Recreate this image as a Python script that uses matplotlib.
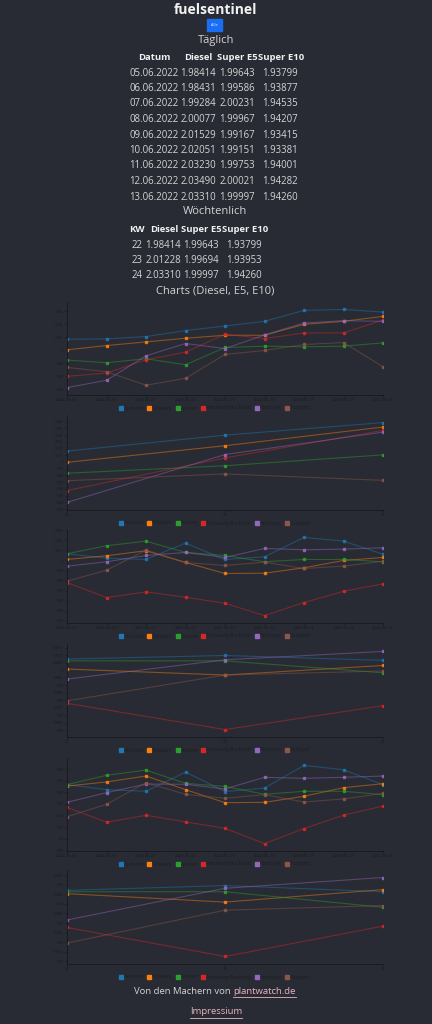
import numpy as np
import matplotlib.pyplot as plt
from matplotlib.ticker import MultipleLocator, FuncFormatter
from matplotlib.lines import Line2D

W, H = 432, 1024
BG = '#282b33'
TXT = '#d4d4d4'
HEAD = '#f0f0f0'
DARK = '#17191d'
PINK = '#e8b4c0'

plt.rcParams['font.family'] = ['Open Sans', 'DejaVu Sans']

# table data
days = ["05.06.2022", "06.06.2022", "07.06.2022", "08.06.2022", "09.06.2022",
        "10.06.2022", "11.06.2022", "12.06.2022", "13.06.2022"]
day_diesel = ["1.98414", "1.98431", "1.99284", "2.00077", "2.01529",
              "2.02051", "2.03230", "2.03490", "2.03310"]
day_e5 = ["1.99643", "1.99586", "2.00231", "1.99967", "1.99167",
          "1.99151", "1.99753", "2.00021", "1.99997"]
day_e10 = ["1.93799", "1.93877", "1.94535", "1.94207", "1.93415",
           "1.93381", "1.94001", "1.94282", "1.94260"]
weeks = ["22", "23", "24"]
week_diesel = ["1.98414", "2.01228", "2.03310"]
week_e5 = ["1.99643", "1.99694", "1.99997"]
week_e10 = ["1.93799", "1.93953", "1.94260"]

# chart data
cities = ["Ansbach", "Potsdam", "Aachen", "Annaberg-Buchholz", "Hamburg", "Stuttgart"]
colors = ['#1f77b4', '#ff7f0e', '#2ca02c', '#d62728', '#9467bd', '#8c564b']
dates = ["2022-06-05", "2022-06-06", "2022-06-07", "2022-06-08", "2022-06-09",
         "2022-06-10", "2022-06-11", "2022-06-12", "2022-06-13"]
kw = [22, 23, 24]

diesel_daily = [
    [2.0168, 2.0173, 2.0209, 2.0300, 2.0372, 2.0443, 2.0611, 2.0626, 2.0585],
    [2.0005, 2.0071, 2.0127, 2.0183, 2.0229, 2.0229, 2.0397, 2.0443, 2.0519],
    [1.9847, 1.9807, 1.9868, 1.9776, 2.0041, 2.0061, 2.0051, 2.0061, 2.0112],
    [1.9598, 1.9649, 1.9852, 1.9969, 2.0244, 2.0178, 2.0265, 2.0265, 2.0463],
    [1.9425, 1.9537, 1.9913, 2.0102, 2.0025, 2.0234, 2.0417, 2.0453, 2.0443],
    [1.9735, 1.9669, 1.9461, 1.9567, 1.9934, 1.9995, 2.0087, 2.0117, 1.9746],
]
diesel_weekly = [
    [2.0162, 2.0399, 2.0586],
    [1.9995, 2.0242, 2.0520],
    [1.9833, 1.9944, 2.0106],
    [1.9576, 2.0061, 2.0470],
    [1.9399, 2.0111, 2.0444],
    [1.9722, 1.9823, 1.9727],
]
e5_daily = [
    [2.0067, 2.0023, 2.0010, 2.0173, 2.0010, 2.0037, 2.0230, 2.0193, 2.0063],
    [2.0010, 2.0047, 2.0097, 1.9980, 1.9870, 1.9873, 1.9927, 2.0000, 2.0030],
    [2.0067, 2.0147, 2.0193, 2.0080, 2.0050, 1.9987, 2.0010, 2.0010, 1.9987],
    [1.9780, 1.9630, 1.9687, 1.9633, 1.9573, 1.9450, 1.9580, 1.9693, 1.9767],
    [1.9943, 1.9987, 2.0050, 2.0080, 2.0030, 2.0120, 2.0107, 2.0113, 2.0127],
    [1.9793, 1.9903, 2.0103, 1.9980, 1.9950, 1.9983, 1.9920, 1.9943, 1.9993],
]
e5_weekly = [
    [2.0076, 2.0100, 2.0067],
    [2.0009, 1.9969, 2.0033],
    [2.0064, 2.0064, 1.9984],
    [1.9780, 1.9604, 1.9764],
    [1.9942, 2.0071, 2.0127],
    [1.9796, 1.9969, 1.9996],
]
e10_daily = [
    [1.9466, 1.9423, 1.9409, 1.9574, 1.9406, 1.9437, 1.9631, 1.9594, 1.9466],
    [1.9454, 1.9489, 1.9540, 1.9423, 1.9311, 1.9314, 1.9366, 1.9440, 1.9474],
    [1.9466, 1.9546, 1.9591, 1.9477, 1.9451, 1.9383, 1.9409, 1.9409, 1.9380],
    [1.9271, 1.9143, 1.9203, 1.9146, 1.9091, 1.8960, 1.9089, 1.9203, 1.9283],
    [1.9314, 1.9397, 1.9471, 1.9469, 1.9429, 1.9529, 1.9520, 1.9529, 1.9540],
    [1.9191, 1.9297, 1.9483, 1.9383, 1.9349, 1.9380, 1.9317, 1.9343, 1.9391],
]
e10_weekly = [
    [1.9470, 1.9495, 1.9463],
    [1.9453, 1.9409, 1.9474],
    [1.9463, 1.9463, 1.9382],
    [1.9277, 1.9126, 1.9284],
    [1.9316, 1.9481, 1.9537],
    [1.9196, 1.9367, 1.9391],
]

fig = plt.figure(figsize=(W / 100, H / 100), dpi=100, facecolor=BG)


def t(x, y, s, **kw):
    kw.setdefault('color', TXT)
    kw.setdefault('ha', 'center')
    kw.setdefault('va', 'center')
    return fig.text(x / W, 1 - y / H, s, **kw)


BODY = 6.9
HB = 6.8
SEC = 8.0

# header
t(216, 10, "fuelsentinel", fontsize=10, fontweight='bold', color='#f2f2f2')
fig.patches.append(plt.Rectangle((207 / W, 1 - 31 / H), 15 / W, 12 / H,
                                 transform=fig.transFigure, color='#1a6ef5'))
t(214.5, 25, "Alle", fontsize=2.8, color='white')
t(216, 41, "Täglich", fontsize=SEC)

# daily table
t(154, 58, "Datum", fontsize=HB, fontweight='bold', color=HEAD)
t(198, 58, "Diesel", fontsize=HB, fontweight='bold', color=HEAD)
t(237, 58, "Super E5", fontsize=HB, fontweight='bold', color=HEAD)
t(281, 58, "Super E10", fontsize=HB, fontweight='bold', color=HEAD)
for i in range(len(days)):
    y = 73 + i * 15.5
    t(154, y, days[i], fontsize=BODY)
    t(198, y, day_diesel[i], fontsize=BODY)
    t(237, y, day_e5[i], fontsize=BODY)
    t(280, y, day_e10[i], fontsize=BODY)

t(215, 212, "Wöchtenlich", fontsize=SEC)
t(137, 229, "KW", fontsize=HB, fontweight='bold', color=HEAD)
t(164, 229, "Diesel", fontsize=HB, fontweight='bold', color=HEAD)
t(201, 229, "Super E5", fontsize=HB, fontweight='bold', color=HEAD)
t(245, 229, "Super E10", fontsize=HB, fontweight='bold', color=HEAD)
for i in range(len(weeks)):
    y = 245 + i * 15.5
    t(137, y, weeks[i], fontsize=BODY)
    t(163, y, week_diesel[i], fontsize=BODY)
    t(201, y, week_e5[i], fontsize=BODY)
    t(244, y, week_e10[i], fontsize=BODY)

t(215, 291, "Charts (Diesel, E5, E10)", fontsize=SEC)

# charts
charts = [
    (diesel_daily, True, 302, 395, 0.02),
    (diesel_weekly, False, 415, 510, 0.01),
    (e5_daily, True, 530, 623, 0.01),
    (e5_weekly, False, 644, 737, 0.005),
    (e10_daily, True, 758, 851, 0.01),
    (e10_weekly, False, 870, 964, 0.005),
]
fmt = FuncFormatter(lambda v, p: f"{round(v, 4):g}")

for series, daily, top, bottom, step in charts:
    ax = fig.add_axes([67 / W, 1 - bottom / H, (383 - 67) / W, (bottom - top) / H])
    ax.set_facecolor(BG)
    xs = np.arange(len(dates)) if daily else np.array(kw)
    for vals, c in zip(series, colors):
        ax.plot(xs, vals, color=c, lw=0.8, alpha=0.45)
        ax.plot(xs, vals, ls='none', marker='s', ms=1.6, color=c, alpha=0.85)
    ax.set_xlim(xs[0], xs[-1])
    ax.margins(y=0.095)
    ax.yaxis.set_major_locator(MultipleLocator(step))
    ax.yaxis.set_major_formatter(fmt)
    ax.set_xticks(xs)
    ax.set_xticklabels(dates if daily else weeks)
    for s in ['top', 'right']:
        ax.spines[s].set_visible(False)
    for s in ['left', 'bottom']:
        ax.spines[s].set_color(DARK)
        ax.spines[s].set_linewidth(0.6)
    ax.tick_params(colors=DARK, labelsize=3, length=1.5, width=0.5, pad=1)
    ax.grid(False)

    handles = [Line2D([], [], ls='none', marker='s', ms=3, color=c) for c in colors]
    leg = fig.legend(handles, cities, loc='center', ncol=6,
                     bbox_to_anchor=(215 / W, 1 - (bottom + 13) / H),
                     frameon=False, fontsize=3.6, handlelength=0.6,
                     handletextpad=0.3, columnspacing=0.8, borderpad=0)
    for txt in leg.get_texts():
        txt.set_color('#1c1e23')

# footer
t(233, 991, "Von den Machern von ", fontsize=6.8, ha='right')
t(233, 991, "plantwatch.de", fontsize=6.8, color=PINK, ha='left')
fig.add_artist(Line2D([233 / W, 296 / W], [1 - 996.5 / H, 1 - 996.5 / H],
                      color=PINK, lw=0.6, transform=fig.transFigure))
t(216, 1012, "Impressium", fontsize=6.8, color=PINK)
fig.add_artist(Line2D([190 / W, 242 / W], [1 - 1017.5 / H, 1 - 1017.5 / H],
                      color=PINK, lw=0.6, transform=fig.transFigure))

fig.savefig('out.png', dpi=100, facecolor=BG)
